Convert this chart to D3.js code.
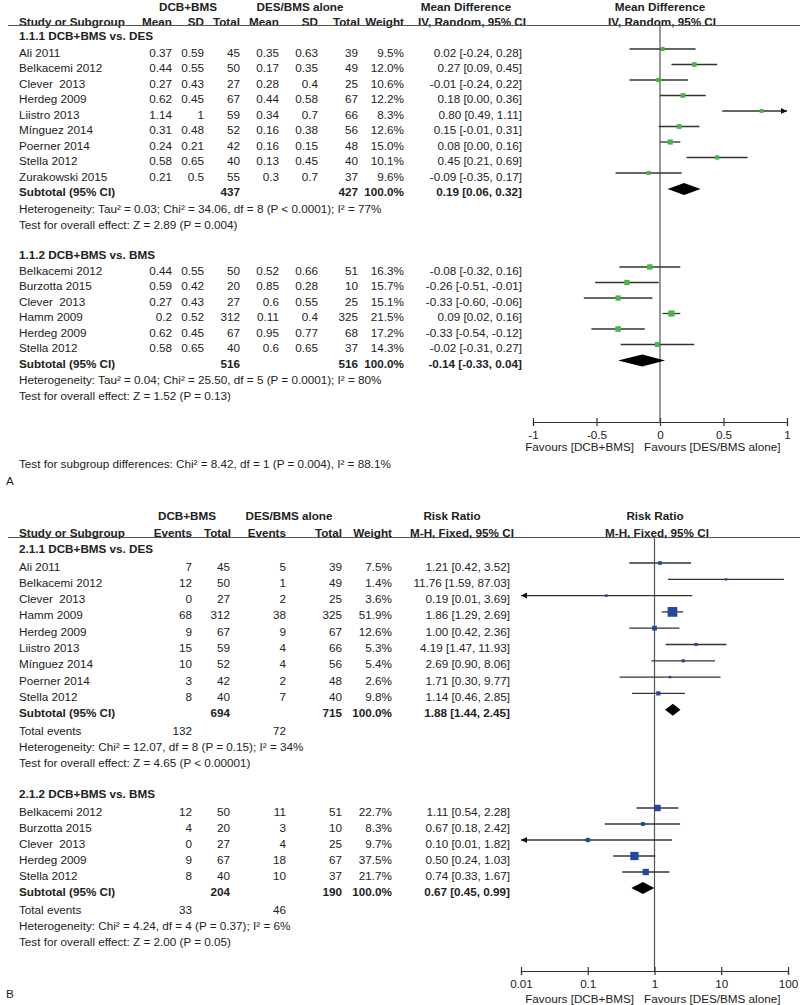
<!DOCTYPE html>
<html>
<head>
<meta charset="utf-8">
<script src="https://cdn.jsdelivr.net/npm/d3@7"></script>
<style>
body { margin: 0; background: #fff; }
text { font-family: "Liberation Sans", Arial, sans-serif; font-size: 11.7px; fill: #222; white-space: pre; }
</style>
</head>
<body>
<svg></svg>
<script>
const svgWidth = 800;
const svgHeight = 1005;

// ---- Panel A: mean difference (IV, random) ----
const a1Studies = ["Ali 2011", "Belkacemi 2012", "Clever  2013", "Herdeg 2009", "Liistro 2013", "Mínguez 2014", "Poerner 2014", "Stella 2012", "Zurakowski 2015"];
const a1Dcb = [[0.37, 0.59, 45], [0.44, 0.55, 50], [0.27, 0.43, 27], [0.62, 0.45, 67], [1.14, 1, 59], [0.31, 0.48, 52], [0.24, 0.21, 42], [0.58, 0.65, 40], [0.21, 0.5, 55]];
const a1Des = [[0.35, 0.63, 39], [0.17, 0.35, 49], [0.28, 0.4, 25], [0.44, 0.58, 67], [0.34, 0.7, 66], [0.16, 0.38, 56], [0.16, 0.15, 48], [0.13, 0.45, 40], [0.3, 0.7, 37]];
const a1Weight = [9.5, 12.0, 10.6, 12.2, 8.3, 12.6, 15.0, 10.1, 9.6];
const a1Effect = [[0.02, -0.24, 0.28], [0.27, 0.09, 0.45], [-0.01, -0.24, 0.22], [0.18, 0.00, 0.36], [0.80, 0.49, 1.11], [0.15, -0.01, 0.31], [0.08, 0.00, 0.16], [0.45, 0.21, 0.69], [-0.09, -0.35, 0.17]];
const a1Totals = [437, 427];
const a1Pooled = [0.19, 0.06, 0.32];

const a2Studies = ["Belkacemi 2012", "Burzotta 2015", "Clever  2013", "Hamm 2009", "Herdeg 2009", "Stella 2012"];
const a2Dcb = [[0.44, 0.55, 50], [0.59, 0.42, 20], [0.27, 0.43, 27], [0.2, 0.52, 312], [0.62, 0.45, 67], [0.58, 0.65, 40]];
const a2Des = [[0.52, 0.66, 51], [0.85, 0.28, 10], [0.6, 0.55, 25], [0.11, 0.4, 325], [0.95, 0.77, 68], [0.6, 0.65, 37]];
const a2Weight = [16.3, 15.7, 15.1, 21.5, 17.2, 14.3];
const a2Effect = [[-0.08, -0.32, 0.16], [-0.26, -0.51, -0.01], [-0.33, -0.60, -0.06], [0.09, 0.02, 0.16], [-0.33, -0.54, -0.12], [-0.02, -0.31, 0.27]];
const a2Totals = [516, 516];
const a2Pooled = [-0.14, -0.33, 0.04];

const aTicks = [-1, -0.5, 0, 0.5, 1];

// ---- Panel B: risk ratio (M-H, fixed) ----
const b1Studies = ["Ali 2011", "Belkacemi 2012", "Clever  2013", "Hamm 2009", "Herdeg 2009", "Liistro 2013", "Mínguez 2014", "Poerner 2014", "Stella 2012"];
const b1Dcb = [[7, 45], [12, 50], [0, 27], [68, 312], [9, 67], [15, 59], [10, 52], [3, 42], [8, 40]];
const b1Des = [[5, 39], [1, 49], [2, 25], [38, 325], [9, 67], [4, 66], [4, 56], [2, 48], [7, 40]];
const b1Weight = [7.5, 1.4, 3.6, 51.9, 12.6, 5.3, 5.4, 2.6, 9.8];
const b1Effect = [[1.21, 0.42, 3.52], [11.76, 1.59, 87.03], [0.19, 0.01, 3.69], [1.86, 1.29, 2.69], [1.00, 0.42, 2.36], [4.19, 1.47, 11.93], [2.69, 0.90, 8.06], [1.71, 0.30, 9.77], [1.14, 0.46, 2.85]];
const b1Totals = [694, 715];
const b1Events = [132, 72];
const b1Pooled = [1.88, 1.44, 2.45];

const b2Studies = ["Belkacemi 2012", "Burzotta 2015", "Clever  2013", "Herdeg 2009", "Stella 2012"];
const b2Dcb = [[12, 50], [4, 20], [0, 27], [9, 67], [8, 40]];
const b2Des = [[11, 51], [3, 10], [4, 25], [18, 67], [10, 37]];
const b2Weight = [22.7, 8.3, 9.7, 37.5, 21.7];
const b2Effect = [[1.11, 0.54, 2.28], [0.67, 0.18, 2.42], [0.10, 0.01, 1.82], [0.50, 0.24, 1.03], [0.74, 0.33, 1.67]];
const b2Totals = [204, 190];
const b2Events = [33, 46];
const b2Pooled = [0.67, 0.45, 0.99];

const bTicks = [0.01, 0.1, 1, 10, 100];

const svg = d3.select("svg")
	.attr("width", svgWidth)
	.attr("height", svgHeight);

const xA = d3.scaleLinear().domain([-1, 1]).range([533, 787]);
const xB = d3.scaleLog().domain([0.01, 100]).range([521, 788]);

const fmt = v => v.toFixed(2);
const effectText = e => `${fmt(e[0])} [${fmt(e[1])}, ${fmt(e[2])}]`;

function txt(x, y, s, anchor, bold) {
	svg.append("text")
		.attr("x", x)
		.attr("y", y)
		.attr("text-anchor", anchor || "start")
		.attr("dominant-baseline", "central")
		.attr("font-weight", bold ? "bold" : null)
		.text(s);
}

function hline(x1, x2, y) {
	svg.append("line")
		.attr("x1", x1).attr("x2", x2)
		.attr("y1", y).attr("y2", y)
		.attr("stroke", "#555")
		.attr("stroke-width", 1.2);
}

// confidence line, box, arrows for one study
function drawStudy(x, y, eff, weight, color) {
	const [lo, hi] = x.domain();
	const left = Math.max(eff[1], lo);
	const right = Math.min(eff[2], hi);
	svg.append("line")
		.attr("x1", x(left)).attr("x2", x(right))
		.attr("y1", y).attr("y2", y)
		.attr("stroke", "#333")
		.attr("stroke-width", 1.3);
	if (eff[1] <= lo) {
		const ax = x(lo);
		svg.append("path")
			.attr("d", `M${ax},${y} L${ax + 6},${y - 3} L${ax + 6},${y + 3} Z`)
			.attr("fill", "#111");
	}
	if (eff[2] >= hi) {
		const ax = x(hi);
		svg.append("path")
			.attr("d", `M${ax},${y} L${ax - 6},${y - 3} L${ax - 6},${y + 3} Z`)
			.attr("fill", "#111");
	}
	const s = Math.max(2.5, 1.35 * Math.sqrt(weight));
	svg.append("rect")
		.attr("x", x(eff[0]) - s / 2)
		.attr("y", y - s / 2)
		.attr("width", s)
		.attr("height", s)
		.attr("fill", color);
}

function drawDiamond(x, y, eff) {
	const h = 6;
	svg.append("path")
		.attr("d", `M${x(eff[1])},${y} L${x(eff[0])},${y - h} L${x(eff[2])},${y} L${x(eff[0])},${y + h} Z`)
		.attr("fill", "#000");
}

function drawAxis(x, ticks, y, labels, favY) {
	const g = svg.append("g")
		.attr("transform", `translate(0, ${y})`)
		.call(d3.axisBottom(x).tickValues(ticks).tickSizeOuter(0).tickSize(4).tickFormat(labels));
	g.select(".domain").attr("stroke", "#333").attr("stroke-width", 1.2);
	g.selectAll(".tick line").attr("y1", -4).attr("y2", 4).attr("stroke", "#333").attr("stroke-width", 1.2);
	g.selectAll(".tick text")
		.attr("y", 12)
		.attr("dy", null)
		.attr("dominant-baseline", "central")
		.attr("font-size", null)
		.attr("font-family", null);
	g.attr("font-size", null).attr("font-family", null);
	txt(634, favY, "Favours [DCB+BMS]", "end");
	txt(644, favY, "Favours [DES/BMS alone]", "start");
}

// ---------------- Panel A ----------------
const aCols = [172, 204, 240, 279, 318, 358];
const aWeightX = 404;
const aEffX = 522;

txt(188, 6.5, "DCB+BMS", "middle", true);
txt(300, 6.5, "DES/BMS alone", "middle", true);
txt(466, 6.5, "Mean Difference", "middle", true);
txt(660, 6.5, "Mean Difference", "middle", true);
txt(19, 21, "Study or Subgroup", "start", true);
["Mean", "SD", "Total", "Mean", "SD", "Total"].forEach((h, i) => txt(aCols[i] + (i === 5 ? 2 : 0), 21, h, "end", true));
txt(aWeightX, 21, "Weight", "end", true);
txt(472, 21, "IV, Random, 95% CI", "middle", true);
txt(662, 21, "IV, Random, 95% CI", "middle", true);
hline(8, 800, 25.5);

svg.append("line")
	.attr("x1", xA(0)).attr("x2", xA(0))
	.attr("y1", 25).attr("y2", 422)
	.attr("stroke", "#555")
	.attr("stroke-width", 1.2);

function drawAGroup(title, titleY, firstY, studies, dcb, des, weight, effect, totals, pooled, het, test) {
	const y = d3.scaleLinear().domain([0, 1]).range([firstY, firstY + 15.5]);
	txt(19, titleY, title, "start", true);
	studies.forEach((name, i) => {
		const ry = y(i);
		txt(19, ry, name);
		const vals = dcb[i].concat(des[i]);
		vals.forEach((v, j) => txt(aCols[j], ry, String(v), "end"));
		txt(aWeightX, ry, weight[i].toFixed(1) + "%", "end");
		txt(aEffX, ry, effectText(effect[i]), "end");
		drawStudy(xA, ry - 3, effect[i], weight[i], "#47b649");
	});
	const sy = y(studies.length);
	txt(19, sy, "Subtotal (95% CI)", "start", true);
	txt(aCols[2], sy, String(totals[0]), "end", true);
	txt(aCols[5], sy, String(totals[1]), "end", true);
	txt(aWeightX, sy, "100.0%", "end", true);
	txt(aEffX, sy, effectText(pooled), "end", true);
	drawDiamond(xA, sy - 2.5, pooled);
	txt(19, sy + 16.5, het);
	txt(19, sy + 32.5, test);
}

drawAGroup("1.1.1 DCB+BMS vs. DES", 35, 52, a1Studies, a1Dcb, a1Des, a1Weight, a1Effect, a1Totals, a1Pooled,
	"Heterogeneity: Tau² = 0.03; Chi² = 34.06, df = 8 (P < 0.0001); I² = 77%",
	"Test for overall effect: Z = 2.89 (P = 0.004)");
drawAGroup("1.1.2 DCB+BMS vs. BMS", 254, 270, a2Studies, a2Dcb, a2Des, a2Weight, a2Effect, a2Totals, a2Pooled,
	"Heterogeneity: Tau² = 0.04; Chi² = 25.50, df = 5 (P = 0.0001); I² = 80%",
	"Test for overall effect: Z = 1.52 (P = 0.13)");

drawAxis(xA, aTicks, 422, d => String(d), 446);
txt(19, 463, "Test for subgroup differences: Chi² = 8.42, df = 1 (P = 0.004), I² = 88.1%");
txt(6, 480, "A");

// ---------------- Panel B ----------------
const bCols = [192, 230, 286, 342];
const bWeightX = 392;
const bEffX = 510;

txt(187, 515, "DCB+BMS", "middle", true);
txt(289, 515, "DES/BMS alone", "middle", true);
txt(452, 515, "Risk Ratio", "middle", true);
txt(655, 515, "Risk Ratio", "middle", true);
txt(19, 532, "Study or Subgroup", "start", true);
["Events", "Total", "Events", "Total"].forEach((h, i) => txt(bCols[i] + (i === 1 ? 1 : 0), 532, h, "end", true));
txt(bWeightX, 532, "Weight", "end", true);
txt(462, 532, "M-H, Fixed, 95% CI", "middle", true);
txt(657, 532, "M-H, Fixed, 95% CI", "middle", true);
hline(8, 800, 537.5);

svg.append("line")
	.attr("x1", xB(1)).attr("x2", xB(1))
	.attr("y1", 537).attr("y2", 971)
	.attr("stroke", "#555")
	.attr("stroke-width", 1.2);

function drawBGroup(title, titleY, firstY, step, studies, dcb, des, weight, effect, totals, events, pooled, het, test) {
	const y = d3.scaleLinear().domain([0, 1]).range([firstY, firstY + step]);
	txt(19, titleY, title, "start", true);
	studies.forEach((name, i) => {
		const ry = y(i);
		txt(19, ry, name);
		const vals = dcb[i].concat(des[i]);
		vals.forEach((v, j) => txt(bCols[j], ry, String(v), "end"));
		txt(bWeightX, ry, weight[i].toFixed(1) + "%", "end");
		txt(bEffX, ry, effectText(effect[i]), "end");
		drawStudy(xB, ry - 3, effect[i], weight[i], "#2447a0");
	});
	const sy = y(studies.length);
	txt(19, sy, "Subtotal (95% CI)", "start", true);
	txt(bCols[1], sy, String(totals[0]), "end", true);
	txt(bCols[3], sy, String(totals[1]), "end", true);
	txt(bWeightX, sy, "100.0%", "end", true);
	txt(bEffX, sy, effectText(pooled), "end", true);
	drawDiamond(xB, sy - 3, pooled);
	txt(19, sy + 18, "Total events");
	txt(bCols[0], sy + 18, String(events[0]), "end");
	txt(bCols[2], sy + 18, String(events[1]), "end");
	txt(19, sy + 34, het);
	txt(19, sy + 50, test);
}

drawBGroup("2.1.1 DCB+BMS vs. DES", 548, 566, 16.3, b1Studies, b1Dcb, b1Des, b1Weight, b1Effect, b1Totals, b1Events, b1Pooled,
	"Heterogeneity: Chi² = 12.07, df = 8 (P = 0.15); I² = 34%",
	"Test for overall effect: Z = 4.65 (P < 0.00001)");
drawBGroup("2.1.2 DCB+BMS vs. BMS", 793, 811, 16, b2Studies, b2Dcb, b2Des, b2Weight, b2Effect, b2Totals, b2Events, b2Pooled,
	"Heterogeneity: Chi² = 4.24, df = 4 (P = 0.37); I² = 6%",
	"Test for overall effect: Z = 2.00 (P = 0.05)");

drawAxis(xB, bTicks, 971, d => String(d), 998);
txt(6, 993, "B");
</script>
</body>
</html>
